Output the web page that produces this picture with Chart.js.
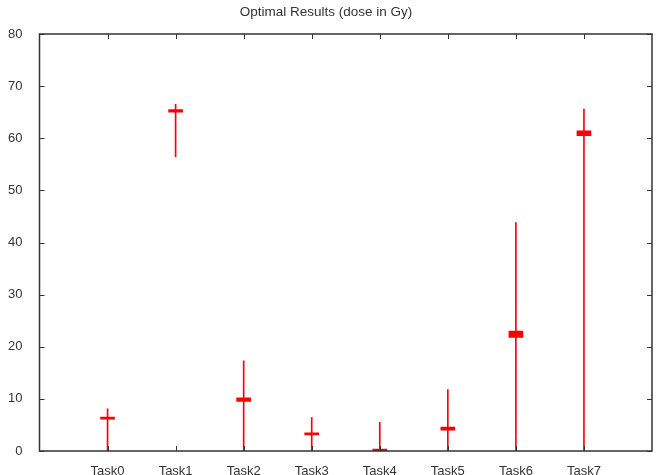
<!DOCTYPE html>
<html>
<head>
<meta charset="utf-8">
<script src="https://cdn.jsdelivr.net/npm/chart.js@4"></script>
<style>
  body { margin: 0; background: #fff; }
  #wrap { width: 656px; height: 475px; position: relative; }
</style>
</head>
<body>
<div id="wrap"><canvas id="chart"></canvas></div>
<script>
// Values (dose in Gy)
const tasks = ['Task0', 'Task1', 'Task2', 'Task3', 'Task4', 'Task5', 'Task6', 'Task7'];
const whiskerLow = [0, 56.4, 0, 0, 0, 0, 0, 0];
const whiskerHigh = [8.1, 66.5, 17.3, 6.4, 5.5, 11.8, 43.8, 65.6];
const boxLow = [6.1, 65.0, 9.5, 3.1, 0, 4.0, 21.8, 60.5];
const boxHigh = [6.3, 65.5, 10.2, 3.5, 0.3, 4.6, 23.0, 61.4];
const yTicks = [0, 10, 20, 30, 40, 50, 60, 70, 80];

const RED = '#ff0000';
const AXIS = '#333';
const FONT = "'Liberation Sans', Arial, Helvetica, sans-serif";

// inward tick marks on all four sides + the frame, gnuplot style
const framePlugin = {
  id: 'frame',
  afterDatasetsDraw(chart) {
    const { ctx, chartArea: a, scales } = chart;
    const len = 5;
    ctx.save();
    ctx.strokeStyle = AXIS;
    ctx.lineWidth = 1;
    ctx.beginPath();
    tasks.forEach((t, i) => {
      const x = Math.round(scales.x.getPixelForValue(i)) + 0.5;
      ctx.moveTo(x, a.bottom); ctx.lineTo(x, a.bottom - len);
      ctx.moveTo(x, a.top); ctx.lineTo(x, a.top + len);
    });
    yTicks.forEach(v => {
      const y = Math.round(scales.y.getPixelForValue(v)) + 0.5;
      ctx.moveTo(a.left, y); ctx.lineTo(a.left + len, y);
      ctx.moveTo(a.right, y); ctx.lineTo(a.right - len, y);
    });
    ctx.stroke();
    ctx.lineWidth = 1.5;
    ctx.strokeRect(a.left, a.top, a.right - a.left, a.bottom - a.top);
    ctx.restore();
  }
};

const whiskers = tasks.map((t, i) => ({ x: i, y: [whiskerLow[i], whiskerHigh[i]] }));
const boxes = tasks.map((t, i) => ({ x: i, y: [boxLow[i], boxHigh[i]] }));

new Chart(document.getElementById('chart'), {
  type: 'bar',
  data: {
    datasets: [
      { label: 'range', data: whiskers, backgroundColor: RED, barThickness: 1, grouped: false, borderWidth: 0 },
      { label: 'box', data: boxes, backgroundColor: RED, barThickness: 14, grouped: false, borderWidth: 0, minBarLength: 2 }
    ]
  },
  options: {
    responsive: true,
    maintainAspectRatio: false,
    animation: false,
    layout: { padding: { right: 4, left: 0, bottom: 0, top: 0 } },
    plugins: {
      legend: { display: false },
      tooltip: { enabled: false },
      title: {
        display: true,
        text: 'Optimal Results (dose in Gy)',
        color: '#333',
        font: { family: FONT, size: 13.5, weight: 'normal' },
        padding: { top: 4, bottom: 13.8 }
      }
    },
    scales: {
      x: {
        type: 'linear',
        min: -1,
        max: 8,
        offset: false,
        grid: { display: false, offset: false },
        border: { display: false },
        afterBuildTicks: s => { s.ticks = tasks.map((t, i) => ({ value: i })); },
        afterFit: s => { s.height = 24; },
        ticks: {
          color: '#333',
          padding: 5,
          maxRotation: 0,
          autoSkip: false,
          font: { family: FONT, size: 13 },
          callback: v => tasks[v] ?? ''
        }
      },
      y: {
        min: 0,
        max: 80,
        grid: { display: false },
        border: { display: false },
        afterBuildTicks: s => { s.ticks = yTicks.map(v => ({ value: v })); },
        afterFit: s => { s.width = 39.5; },
        ticks: {
          color: '#333',
          padding: 9,
          font: { family: FONT, size: 13 }
        }
      }
    }
  },
  plugins: [framePlugin]
});
</script>
</body>
</html>
